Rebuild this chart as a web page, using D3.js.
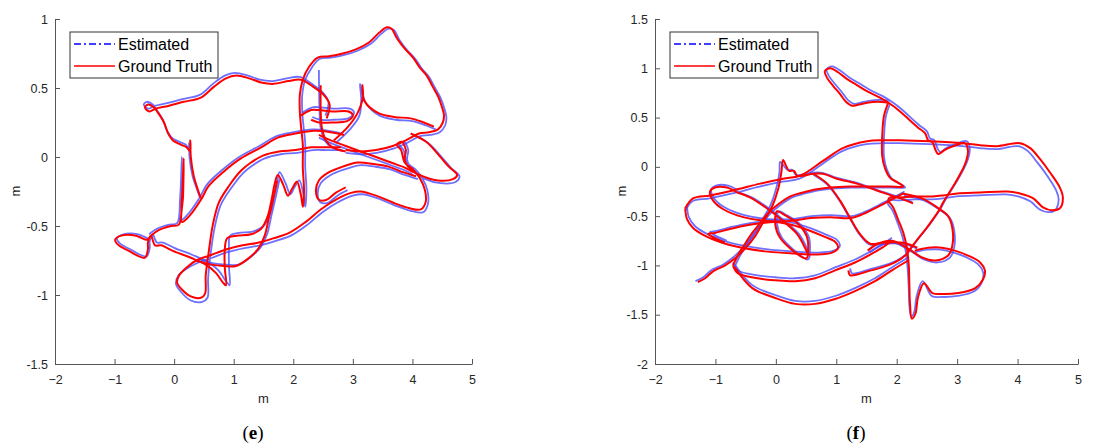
<!DOCTYPE html>
<html>
<head>
<meta charset="utf-8">
<title>Trajectories</title>
<script src="https://d3js.org/d3.v7.min.js"></script>
<style>
  body { margin: 0; background: #fff; }
  svg text { font-family: "Liberation Sans", Arial, sans-serif; }
</style>
</head>
<body>
<div id="chart"></div>
<script>
// tick values
var xTicks = [-2, -1, 0, 1, 2, 3, 4, 5];
var yTicksE = [-1.5, -1, -0.5, 0, 0.5, 1];
var yTicksF = [-2, -1.5, -1, -0.5, 0, 0.5, 1, 1.5];
var seriesNames = ["Estimated", "Ground Truth"];

// panel (e): ground truth, traced as pieces of the path [x, y] in metres
var truthE = [
  [[2.56,0.28],[2.61,0.38],[2.51,0.45],[2.33,0.51],[2.13,0.56],[1.91,0.55],[1.67,0.53],[1.46,0.54],[1.26,0.57],[1.04,0.59],[0.87,0.57],[0.67,0.51],[0.45,0.43],[0.16,0.40],[-0.10,0.37],[-0.31,0.35],[-0.42,0.33],[-0.49,0.36],[-0.44,0.38],[-0.34,0.36],[-0.27,0.32],[-0.17,0.25],[-0.10,0.17],[-0.02,0.12],[0.11,0.09],[0.21,0.07],[0.27,0.04],[0.27,0.12],[0.28,0.00],[0.33,-0.14],[0.40,-0.24],[0.45,-0.30]],
  [[-0.39,-0.57],[-0.46,-0.60],[-0.64,-0.57],[-0.89,-0.57],[-0.99,-0.60],[-0.93,-0.64],[-0.76,-0.68],[-0.59,-0.72],[-0.49,-0.73],[-0.44,-0.67],[-0.44,-0.62],[-0.39,-0.57],[-0.32,-0.64],[-0.22,-0.64],[-0.02,-0.68],[0.28,-0.73],[0.53,-0.78],[0.70,-0.84],[0.82,-0.91],[0.87,-0.93],[0.85,-0.80],[0.85,-0.67],[0.89,-0.59],[1.05,-0.57],[1.29,-0.56],[1.46,-0.52],[1.57,-0.43],[1.64,-0.30],[1.69,-0.19],[1.74,-0.13],[1.83,-0.20],[1.91,-0.28],[1.98,-0.23],[2.06,-0.18],[2.13,-0.28],[2.16,-0.36],[2.18,-0.24],[2.16,-0.08],[2.16,0.09],[2.13,0.22],[2.11,0.33],[2.11,0.45],[2.16,0.56],[2.26,0.65],[2.41,0.72],[2.60,0.73],[2.83,0.75],[3.05,0.78],[3.27,0.83],[3.44,0.90],[3.57,0.94],[3.65,0.93],[3.74,0.86],[3.86,0.79],[4.01,0.72],[4.12,0.65],[4.24,0.59],[4.34,0.51],[4.43,0.44],[4.49,0.37],[4.53,0.30],[4.51,0.25],[4.43,0.20],[4.28,0.18],[4.11,0.17],[3.89,0.12],[3.67,0.08],[3.39,0.05],[3.13,0.04],[2.88,0.05]],
  [[2.80,0.07],[2.55,0.07],[2.30,0.07],[2.04,0.05],[1.76,0.04],[1.49,0.01],[1.29,-0.04],[1.12,-0.10],[0.92,-0.21],[0.75,-0.33],[0.65,-0.49],[0.58,-0.69],[0.53,-0.86],[0.52,-0.99],[0.45,-1.02],[0.28,-1.01],[0.13,-0.96],[0.05,-0.91],[0.08,-0.86],[0.21,-0.80],[0.37,-0.75],[0.62,-0.71],[0.87,-0.67],[1.15,-0.64],[1.42,-0.62],[1.66,-0.59],[1.93,-0.55],[2.21,-0.47],[2.46,-0.38],[2.71,-0.31],[2.97,-0.26],[3.13,-0.25],[3.39,-0.28],[3.67,-0.33],[3.94,-0.37],[4.14,-0.38],[4.22,-0.33],[4.21,-0.24],[4.12,-0.15],[4.01,-0.09],[3.87,-0.04],[3.81,0.05],[3.74,0.09],[3.82,0.11],[3.89,0.05],[3.87,-0.02],[3.97,-0.09],[4.18,-0.14],[4.43,-0.17],[4.68,-0.16],[4.75,-0.13],[4.61,-0.07],[4.45,0.01],[4.23,0.11],[3.97,0.17]],
  [[-0.39,-0.57],[-0.26,-0.53],[-0.05,-0.50],[0.08,-0.49],[0.13,-0.31],[0.16,-0.01],[0.15,-0.28],[0.13,-0.47],[0.25,-0.43],[0.45,-0.31],[0.58,-0.21],[0.82,-0.11],[1.12,-0.01],[1.46,0.07],[1.74,0.14],[2.04,0.17],[2.35,0.19],[2.63,0.18],[2.85,0.16]],
  [[0.37,-0.75],[0.62,-0.78],[0.84,-0.79],[1.04,-0.79],[1.26,-0.73],[1.42,-0.66],[1.52,-0.57],[1.59,-0.44],[1.66,-0.31],[1.73,-0.17]],
  [[2.88,-0.22],[2.71,-0.26],[2.56,-0.31],[2.43,-0.31],[2.38,-0.24],[2.43,-0.17],[2.60,-0.11],[2.83,-0.07],[3.08,-0.04],[3.34,-0.05],[3.60,-0.07],[3.84,-0.11],[4.06,-0.14]],
  [[2.13,0.30],[2.30,0.34],[2.43,0.34],[2.66,0.33],[2.93,0.33],[3.00,0.30],[2.90,0.26],[2.66,0.25],[2.43,0.25],[2.30,0.27]],
  [[2.46,0.52],[2.46,0.34],[2.48,0.21],[2.55,0.12],[2.66,0.07],[2.88,0.04]],
  [[2.68,0.12],[2.92,0.22],[3.08,0.32],[3.17,0.44],[3.16,0.52],[3.19,0.41],[3.42,0.32],[3.69,0.29],[3.97,0.28],[4.19,0.25],[4.36,0.22]],
  [[2.43,0.16],[2.63,0.12],[2.88,0.08],[3.13,0.04],[3.39,0.00],[3.64,-0.04],[3.89,-0.08],[4.01,-0.11]]
];

// panel (e): estimated
var estE = [
  [[2.54,0.30],[2.59,0.40],[2.49,0.47],[2.31,0.53],[2.11,0.58],[1.89,0.57],[1.65,0.55],[1.44,0.56],[1.24,0.59],[1.02,0.61],[0.85,0.59],[0.65,0.53],[0.43,0.45],[0.14,0.42],[-0.12,0.39],[-0.33,0.37],[-0.44,0.35],[-0.51,0.38],[-0.46,0.40],[-0.36,0.38],[-0.29,0.34],[-0.19,0.27],[-0.12,0.19],[-0.04,0.14],[0.09,0.11],[0.19,0.09],[0.25,0.06],[0.25,0.10],[0.26,-0.01],[0.31,-0.14],[0.38,-0.23],[0.43,-0.29]],
  [[-0.35,-0.56],[-0.42,-0.59],[-0.60,-0.56],[-0.85,-0.56],[-0.96,-0.59],[-0.90,-0.63],[-0.73,-0.67],[-0.56,-0.71],[-0.46,-0.72],[-0.41,-0.66],[-0.41,-0.61],[-0.36,-0.56],[-0.29,-0.62],[-0.19,-0.62],[0.01,-0.66],[0.31,-0.71],[0.56,-0.76],[0.74,-0.82],[0.87,-0.90],[0.93,-0.93],[0.92,-0.79],[0.92,-0.66],[0.94,-0.57],[1.08,-0.55],[1.32,-0.54],[1.50,-0.50],[1.61,-0.41],[1.68,-0.28],[1.73,-0.18],[1.77,-0.11],[1.87,-0.19],[1.95,-0.27],[2.02,-0.22],[2.10,-0.17],[2.17,-0.27],[2.20,-0.36],[2.22,-0.23],[2.20,-0.07],[2.20,0.10],[2.17,0.23],[2.15,0.33],[2.15,0.45],[2.20,0.56],[2.30,0.64],[2.44,0.71],[2.63,0.72],[2.86,0.74],[3.08,0.77],[3.30,0.82],[3.47,0.89],[3.60,0.93],[3.69,0.92],[3.78,0.85],[3.90,0.78],[4.05,0.71],[4.16,0.64],[4.28,0.58],[4.38,0.50],[4.47,0.43],[4.53,0.36],[4.57,0.29],[4.55,0.23],[4.46,0.18],[4.30,0.16],[4.12,0.15],[3.90,0.10],[3.68,0.06],[3.40,0.03],[3.13,0.02],[2.88,0.03]],
  [[2.83,0.05],[2.58,0.05],[2.33,0.05],[2.07,0.03],[1.79,0.02],[1.52,-0.01],[1.32,-0.06],[1.15,-0.12],[0.95,-0.23],[0.78,-0.35],[0.68,-0.51],[0.61,-0.71],[0.57,-0.88],[0.56,-1.02],[0.47,-1.05],[0.28,-1.04],[0.12,-0.98],[0.03,-0.92],[0.07,-0.86],[0.21,-0.81],[0.38,-0.77],[0.64,-0.73],[0.89,-0.69],[1.18,-0.66],[1.45,-0.64],[1.69,-0.61],[1.96,-0.57],[2.24,-0.49],[2.49,-0.40],[2.74,-0.33],[3.00,-0.28],[3.16,-0.27],[3.42,-0.30],[3.70,-0.35],[3.97,-0.39],[4.18,-0.40],[4.26,-0.34],[4.25,-0.24],[4.16,-0.15],[4.05,-0.09],[3.91,-0.04],[3.85,0.05],[3.78,0.09],[3.86,0.11],[3.93,0.05],[3.91,-0.02],[4.01,-0.10],[4.22,-0.16],[4.47,-0.19],[4.73,-0.18],[4.79,-0.14],[4.65,-0.08],[4.49,0.00],[4.27,0.10],[4.01,0.16]],
  [[-0.42,-0.56],[-0.29,-0.52],[-0.08,-0.49],[0.05,-0.48],[0.10,-0.30],[0.13,0.00],[0.12,-0.27],[0.10,-0.46],[0.22,-0.42],[0.42,-0.30],[0.55,-0.20],[0.79,-0.10],[1.09,0.00],[1.43,0.08],[1.71,0.15],[2.01,0.18],[2.32,0.20],[2.60,0.19],[2.82,0.17]],
  [[0.41,-0.74],[0.66,-0.77],[0.88,-0.78],[1.08,-0.78],[1.30,-0.72],[1.46,-0.65],[1.56,-0.56],[1.63,-0.43],[1.70,-0.30],[1.77,-0.16]],
  [[2.91,-0.24],[2.74,-0.28],[2.59,-0.33],[2.46,-0.33],[2.41,-0.26],[2.46,-0.19],[2.63,-0.13],[2.86,-0.09],[3.11,-0.06],[3.37,-0.07],[3.63,-0.09],[3.87,-0.13],[4.09,-0.16]],
  [[2.15,0.32],[2.32,0.36],[2.45,0.36],[2.68,0.35],[2.95,0.35],[3.02,0.32],[2.92,0.28],[2.68,0.27],[2.45,0.27],[2.32,0.29]],
  [[2.43,0.63],[2.44,0.34],[2.46,0.21],[2.53,0.12],[2.64,0.07],[2.86,0.04]],
  [[2.71,0.10],[2.95,0.20],[3.11,0.30],[3.14,0.42],[3.12,0.53],[3.22,0.39],[3.45,0.30],[3.72,0.27],[4.00,0.26],[4.22,0.23],[4.39,0.20]],
  [[2.43,0.14],[2.63,0.10],[2.88,0.06],[3.13,0.02],[3.39,-0.02],[3.64,-0.06],[3.89,-0.10],[4.01,-0.13]]
];

// panel (f): ground truth
var truthF = [
  [[1.86,0.65],[1.68,0.66],[1.51,0.65],[1.36,0.63],[1.26,0.62],[1.16,0.66],[1.06,0.74],[0.95,0.82],[0.85,0.90],[0.81,0.97],[0.90,1.00],[1.03,0.96],[1.18,0.89],[1.34,0.83],[1.53,0.76],[1.73,0.70],[1.89,0.64],[2.06,0.56],[2.22,0.47],[2.35,0.40],[2.47,0.34],[2.52,0.27],[2.59,0.25],[2.65,0.16],[2.69,0.13],[2.79,0.17],[2.94,0.21],[3.13,0.24],[3.18,0.16],[3.15,0.06],[3.08,-0.04],[2.98,-0.15],[2.88,-0.25],[2.78,-0.35],[2.69,-0.45],[2.59,-0.54],[2.47,-0.64],[2.35,-0.73],[2.24,-0.82],[2.14,-0.90],[1.97,-0.97],[1.76,-1.02],[1.52,-1.06],[1.36,-1.09],[1.23,-1.10],[1.20,-1.05]],
  [[1.86,0.65],[1.79,0.52],[1.76,0.31],[1.76,0.11],[1.81,-0.02],[1.89,-0.11],[2.02,-0.16],[2.11,-0.20],[1.89,-0.20],[1.56,-0.20],[1.23,-0.20],[0.90,-0.21],[0.65,-0.23],[0.45,-0.26],[0.24,-0.30],[0.04,-0.38],[-0.13,-0.47],[-0.26,-0.57],[-0.39,-0.67],[-0.51,-0.78],[-0.63,-0.90],[-0.71,-1.00]],
  [[-1.50,-0.42],[-1.37,-0.32],[-1.09,-0.29],[-0.71,-0.24],[-0.26,-0.17],[0.12,-0.12],[0.40,-0.09],[0.78,0.06],[1.11,0.19],[1.51,0.26],[1.77,0.27],[2.06,0.27],[2.55,0.26],[3.10,0.24],[3.38,0.22],[3.66,0.21],[4.04,0.24],[4.21,0.19],[4.37,0.08],[4.54,-0.06],[4.70,-0.21],[4.75,-0.31],[4.70,-0.42],[4.57,-0.44],[4.42,-0.41],[4.26,-0.32],[4.04,-0.27],[3.83,-0.25],[3.38,-0.26],[3.00,-0.27],[2.77,-0.29],[2.60,-0.30],[2.30,-0.30],[2.06,-0.31],[1.89,-0.31],[1.86,-0.34],[1.94,-0.41],[2.02,-0.53],[2.11,-0.67],[2.17,-0.83],[2.20,-1.00],[2.21,-1.21],[2.22,-1.39],[2.25,-1.54],[2.31,-1.49],[2.35,-1.33],[2.45,-1.18],[2.59,-1.28],[2.75,-1.29],[3.02,-1.28],[3.30,-1.23],[3.43,-1.14],[3.46,-1.05],[3.38,-0.97],[3.18,-0.90],[2.96,-0.85],[2.75,-0.82],[2.52,-0.82],[2.30,-0.85]],
  [[-1.50,-0.42],[-1.47,-0.53],[-1.37,-0.62],[-1.17,-0.70],[-0.89,-0.77],[-0.56,-0.82],[-0.13,-0.86],[0.32,-0.88],[0.65,-0.89],[0.93,-0.87],[1.03,-0.82],[0.98,-0.76],[0.81,-0.71],[0.53,-0.64],[0.27,-0.59],[-0.01,-0.56],[-0.23,-0.57],[-0.46,-0.59],[-0.76,-0.63],[-1.01,-0.67],[-1.12,-0.68],[-1.02,-0.72],[-0.84,-0.77]],
  [[-0.64,-0.26],[-0.81,-0.21],[-1.01,-0.21],[-1.09,-0.25],[-1.04,-0.34],[-0.87,-0.43],[-0.54,-0.51],[-0.15,-0.55],[0.23,-0.55],[0.57,-0.52],[0.90,-0.51],[1.23,-0.52],[1.44,-0.48],[1.77,-0.38],[2.11,-0.27]],
  [[-0.64,-0.26],[-0.43,-0.31],[-0.15,-0.42],[0.12,-0.55],[0.35,-0.68],[0.48,-0.82],[0.53,-0.90],[0.50,-0.93],[0.45,-0.92],[0.28,-0.85],[0.07,-0.72],[-0.01,-0.58],[0.02,-0.45],[0.12,-0.48],[0.37,-0.58],[0.52,-0.72],[0.53,-0.88]],
  [[-1.29,-1.17],[-1.17,-1.13],[-1.04,-1.06],[-0.84,-1.00],[-0.68,-0.93],[-0.51,-0.83],[-0.34,-0.70],[-0.20,-0.55],[-0.06,-0.40],[0.04,-0.22],[0.09,-0.06],[0.12,0.07],[0.17,0.01],[0.22,-0.04],[0.30,-0.04],[0.35,-0.09],[0.45,-0.09],[0.62,-0.07],[0.78,-0.07],[1.01,-0.12],[1.34,-0.17],[1.67,-0.24],[2.01,-0.31],[2.27,-0.37]],
  [[0.62,-0.07],[0.85,-0.17],[1.06,-0.34],[1.23,-0.52],[1.39,-0.68],[1.56,-0.78],[1.77,-0.77],[2.11,-0.77],[2.34,-0.82]],
  [[1.52,-0.85],[1.69,-0.78],[1.92,-0.75],[2.19,-0.83],[2.42,-0.92],[2.64,-0.95],[2.85,-0.90],[2.92,-0.80],[2.92,-0.62],[2.85,-0.50],[2.69,-0.42],[2.42,-0.32],[2.09,-0.27]],
  [[-0.71,-1.00],[-0.63,-1.08],[-0.30,-1.13],[-0.01,-1.15],[0.32,-1.16],[0.65,-1.13],[0.98,-1.05],[1.31,-0.97],[1.59,-0.88],[1.76,-0.82],[1.92,-0.75]],
  [[-0.68,-1.02],[-0.39,-1.23],[-0.01,-1.33],[0.32,-1.39],[0.65,-1.39],[0.98,-1.34],[1.31,-1.26],[1.64,-1.16],[1.92,-1.05],[2.19,-0.95]]
];

// panel (f): estimated
var estF = [
  [[1.89,0.67],[1.71,0.68],[1.54,0.67],[1.39,0.65],[1.29,0.64],[1.19,0.68],[1.09,0.76],[0.98,0.84],[0.88,0.92],[0.84,0.99],[0.93,1.02],[1.06,0.98],[1.21,0.91],[1.37,0.85],[1.56,0.78],[1.76,0.72],[1.92,0.66],[2.09,0.58],[2.25,0.49],[2.38,0.42],[2.50,0.36],[2.55,0.29],[2.62,0.27],[2.68,0.18],[2.72,0.15],[2.82,0.19],[2.97,0.23],[3.16,0.26],[3.21,0.18],[3.18,0.08],[3.11,-0.02],[3.01,-0.13],[2.91,-0.23],[2.81,-0.33],[2.72,-0.43],[2.62,-0.52],[2.50,-0.62],[2.38,-0.71],[2.27,-0.80],[2.17,-0.88],[2.00,-0.95],[1.79,-1.00],[1.55,-1.04],[1.39,-1.07],[1.26,-1.08],[1.23,-1.03]],
  [[1.89,0.64],[1.82,0.51],[1.79,0.30],[1.79,0.10],[1.84,-0.03],[1.92,-0.12],[2.05,-0.17],[2.14,-0.21],[1.92,-0.21],[1.59,-0.21],[1.26,-0.21],[0.93,-0.22],[0.68,-0.24],[0.48,-0.27],[0.27,-0.31],[0.07,-0.39],[-0.10,-0.48],[-0.23,-0.58],[-0.36,-0.68],[-0.48,-0.79],[-0.60,-0.91],[-0.68,-1.01]],
  [[-1.50,-0.45],[-1.38,-0.35],[-1.10,-0.32],[-0.72,-0.27],[-0.27,-0.20],[0.11,-0.15],[0.39,-0.12],[0.77,0.03],[1.10,0.16],[1.50,0.23],[1.76,0.24],[2.05,0.24],[2.54,0.23],[3.09,0.21],[3.37,0.19],[3.65,0.18],[4.01,0.21],[4.17,0.16],[4.32,0.05],[4.49,-0.09],[4.64,-0.24],[4.68,-0.33],[4.62,-0.44],[4.50,-0.46],[4.36,-0.43],[4.21,-0.35],[4.01,-0.30],[3.81,-0.28],[3.37,-0.29],[2.99,-0.30],[2.76,-0.32],[2.59,-0.33],[2.29,-0.33],[2.05,-0.34],[1.88,-0.34],[1.85,-0.37],[1.93,-0.44],[2.01,-0.56],[2.09,-0.70],[2.15,-0.86],[2.18,-1.03],[2.20,-1.24],[2.21,-1.41],[2.24,-1.52],[2.29,-1.47],[2.33,-1.31],[2.43,-1.16],[2.58,-1.31],[2.74,-1.32],[3.01,-1.31],[3.29,-1.26],[3.41,-1.17],[3.43,-1.07],[3.35,-0.99],[3.16,-0.92],[2.94,-0.87],[2.73,-0.84],[2.50,-0.84],[2.28,-0.87]],
  [[-1.47,-0.40],[-1.44,-0.51],[-1.34,-0.60],[-1.14,-0.68],[-0.86,-0.75],[-0.53,-0.80],[-0.10,-0.84],[0.35,-0.86],[0.68,-0.87],[0.96,-0.85],[1.06,-0.80],[1.01,-0.74],[0.84,-0.69],[0.56,-0.62],[0.30,-0.57],[0.02,-0.54],[-0.20,-0.55],[-0.43,-0.57],[-0.73,-0.61],[-0.98,-0.65],[-1.09,-0.66],[-0.99,-0.70],[-0.81,-0.75]],
  [[-0.62,-0.24],[-0.79,-0.19],[-0.99,-0.19],[-1.07,-0.23],[-1.02,-0.32],[-0.85,-0.41],[-0.52,-0.49],[-0.13,-0.53],[0.25,-0.53],[0.59,-0.50],[0.92,-0.49],[1.25,-0.50],[1.46,-0.46],[1.79,-0.36],[2.13,-0.25]],
  [[-0.61,-0.26],[-0.40,-0.31],[-0.12,-0.42],[0.15,-0.55],[0.38,-0.68],[0.51,-0.82],[0.56,-0.90],[0.53,-0.94],[0.48,-0.93],[0.31,-0.85],[0.10,-0.72],[0.02,-0.58],[0.05,-0.45],[0.15,-0.48],[0.40,-0.58],[0.55,-0.72],[0.56,-0.88]],
  [[-1.33,-1.16],[-1.20,-1.12],[-1.07,-1.05],[-0.87,-0.99],[-0.71,-0.92],[-0.54,-0.82],[-0.37,-0.69],[-0.23,-0.54],[-0.09,-0.39],[0.01,-0.21],[0.06,-0.05],[0.07,0.05],[0.12,0.02],[0.19,-0.03],[0.27,-0.03],[0.33,-0.08],[0.43,-0.08],[0.61,-0.06],[0.77,-0.06],[1.00,-0.11],[1.33,-0.16],[1.66,-0.23],[2.00,-0.30],[2.26,-0.36]],
  [[0.62,-0.08],[0.85,-0.18],[1.06,-0.35],[1.23,-0.53],[1.39,-0.69],[1.56,-0.79],[1.77,-0.78],[2.11,-0.78],[2.34,-0.83]],
  [[1.55,-0.87],[1.72,-0.80],[1.95,-0.77],[2.22,-0.85],[2.45,-0.94],[2.67,-0.97],[2.88,-0.92],[2.95,-0.82],[2.95,-0.64],[2.88,-0.52],[2.72,-0.44],[2.45,-0.34],[2.12,-0.29]],
  [[-0.71,-0.97],[-0.63,-1.05],[-0.30,-1.10],[-0.01,-1.12],[0.32,-1.13],[0.65,-1.10],[0.98,-1.02],[1.31,-0.94],[1.59,-0.85],[1.76,-0.79],[1.92,-0.72]],
  [[-0.68,-0.99],[-0.39,-1.20],[-0.01,-1.30],[0.32,-1.36],[0.65,-1.36],[0.98,-1.31],[1.31,-1.23],[1.64,-1.13],[1.92,-1.02],[2.19,-0.92]]
];

var svg = d3.select("#chart").append("svg")
  .attr("width", 1100)
  .attr("height", 446);

var panels = [
  { left: 55, right: 472, yDomain: [-1.5, 1], yTicks: yTicksE, truth: truthE, est: estE, tag: "e", legendX: 70, labelX: 253, ylabelX: 15 },
  { left: 655, right: 1078, yDomain: [-2, 1.5], yTicks: yTicksF, truth: truthF, est: estF, tag: "f", legendX: 670, labelX: 856, ylabelX: 621 }
];

var axisColor = "#555";
var textColor = "#262626";

panels.forEach(function (p) {
  var x = d3.scaleLinear().domain([-2, 5]).range([p.left, p.right]);
  var y = d3.scaleLinear().domain(p.yDomain).range([364, 19]);

  var line = d3.line()
    .x(function (d) { return x(d[0]); })
    .y(function (d) { return y(d[1]); })
    .curve(d3.curveCatmullRom.alpha(0.5));

  var g = svg.append("g");

  // estimated first, ground truth on top
  g.selectAll(".est").data(p.est).enter().append("path")
    .attr("class", "est")
    .attr("d", line)
    .attr("fill", "none")
    .attr("stroke", "#4a4aff")
    .attr("stroke-opacity", 0.8)
    .attr("stroke-width", 1.8)
    .attr("stroke-linejoin", "round");

  g.selectAll(".truth").data(p.truth).enter().append("path")
    .attr("class", "truth")
    .attr("d", line)
    .attr("fill", "none")
    .attr("stroke", "#ff0000")
    .attr("stroke-width", 2)
    .attr("stroke-linejoin", "round");

  // axes, ticks pointing inward
  var xAxis = svg.append("g")
    .attr("transform", "translate(0,364)")
    .call(d3.axisBottom(x).tickValues(xTicks).tickSizeInner(-5).tickSizeOuter(0).tickPadding(11).tickFormat(d3.format("d")));
  var yAxis = svg.append("g")
    .attr("transform", "translate(" + p.left + ",0)")
    .call(d3.axisLeft(y).tickValues(p.yTicks).tickSizeInner(-5).tickSizeOuter(0).tickPadding(7).tickFormat(function (d) { return String(d); }));

  [xAxis, yAxis].forEach(function (a) {
    a.select(".domain").attr("stroke", axisColor).attr("stroke-width", 1);
    a.selectAll(".tick line").attr("stroke", axisColor);
    a.selectAll(".tick text").attr("fill", textColor).style("font-size", "12.5px");
  });

  svg.append("text")
    .attr("x", (p.left + p.right) / 2)
    .attr("y", 403)
    .attr("text-anchor", "middle")
    .attr("fill", textColor)
    .style("font-size", "13px")
    .text("m");

  svg.append("text")
    .attr("transform", "translate(" + p.ylabelX + ",191) rotate(-90)")
    .attr("text-anchor", "middle")
    .attr("dy", "0.35em")
    .attr("fill", textColor)
    .style("font-size", "13px")
    .text("m");

  // panel tag like (e)
  var tag = svg.append("text")
    .attr("x", p.labelX)
    .attr("y", 439)
    .attr("text-anchor", "middle")
    .attr("fill", "#000")
    .style("font-family", "'Liberation Serif', 'DejaVu Serif', serif")
    .style("font-size", "19px");
  tag.append("tspan").text("(");
  tag.append("tspan").style("font-weight", "bold").text(p.tag);
  tag.append("tspan").text(")");

  // legend
  var lg = svg.append("g").attr("transform", "translate(" + p.legendX + ",32)");
  lg.append("rect")
    .attr("width", 148).attr("height", 46)
    .attr("fill", "#fff")
    .attr("stroke", "#333")
    .attr("stroke-width", 1);
  var styles = [
    { color: "#0000ff", dash: "7,3,2,3" },
    { color: "#ff0000", dash: null }
  ];
  seriesNames.forEach(function (name, i) {
    var yy = 12 + i * 22;
    lg.append("line")
      .attr("x1", 4).attr("x2", 45)
      .attr("y1", yy).attr("y2", yy)
      .attr("stroke", styles[i].color)
      .attr("stroke-width", 1.5)
      .attr("stroke-dasharray", styles[i].dash);
    lg.append("text")
      .attr("x", 48)
      .attr("y", yy)
      .attr("dy", "0.36em")
      .attr("fill", "#000")
      .style("font-size", "16px")
      .text(name);
  });
});
</script>
</body>
</html>
